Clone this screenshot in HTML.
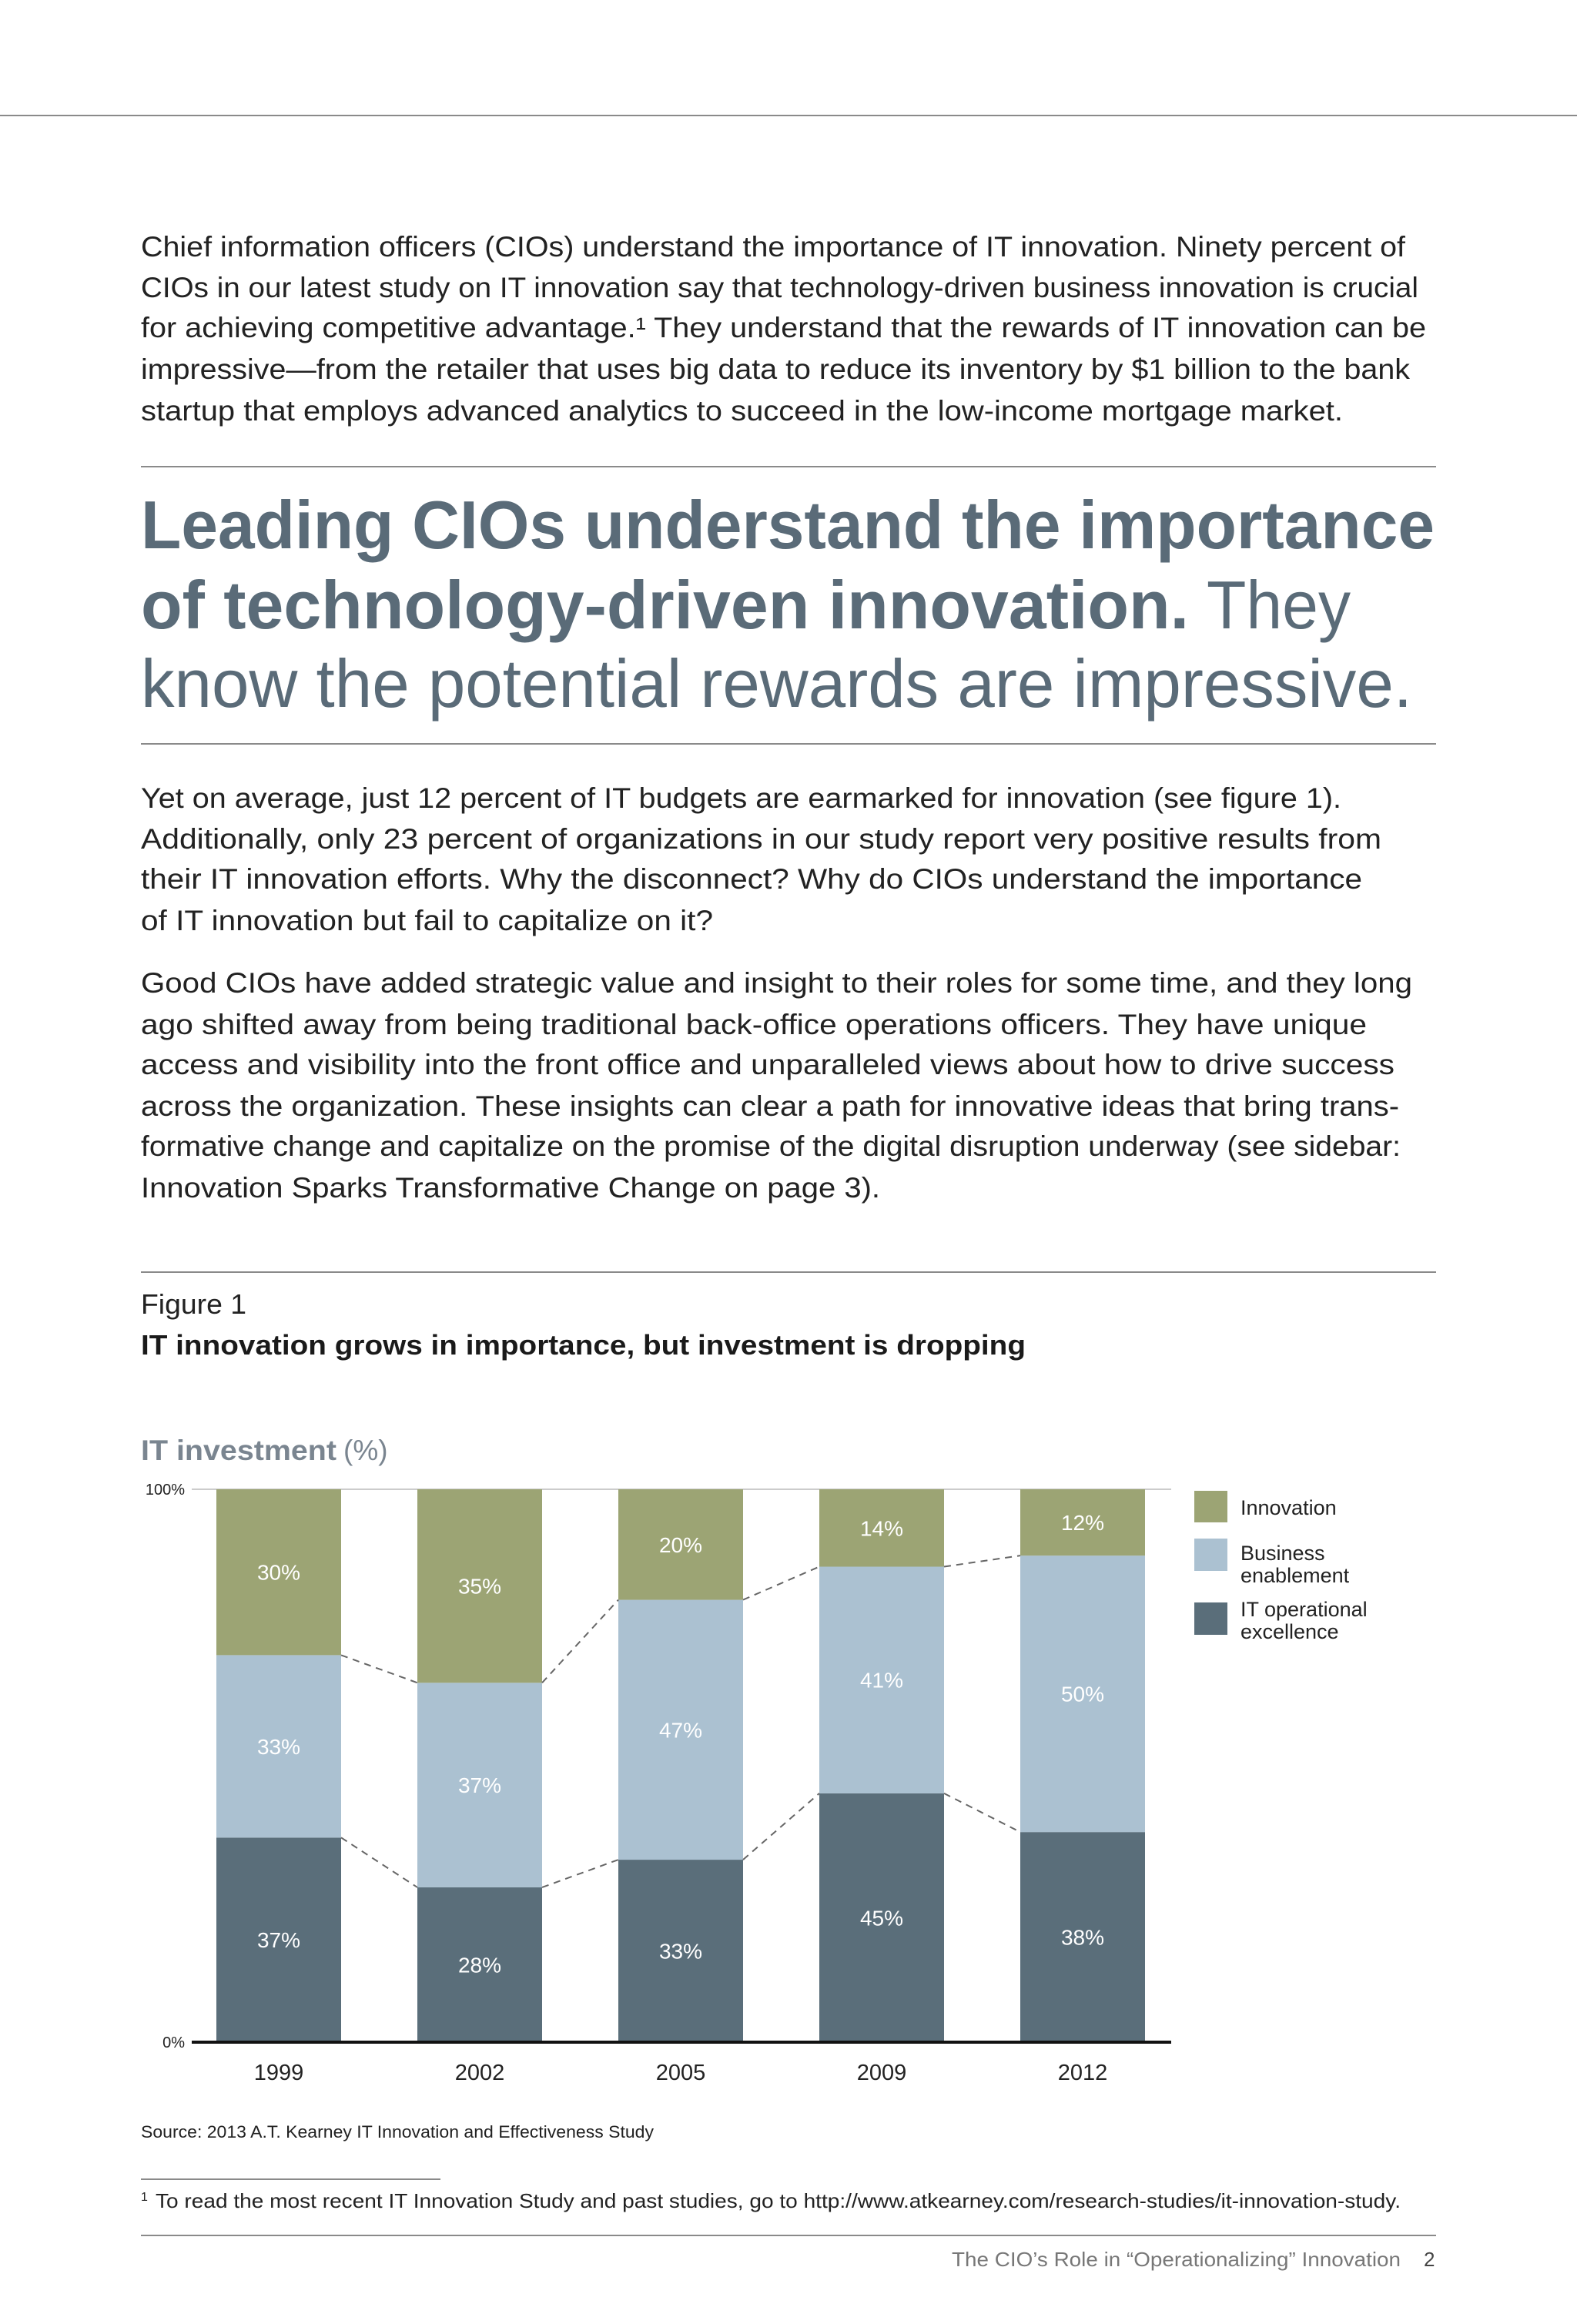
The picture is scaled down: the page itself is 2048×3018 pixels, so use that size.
<!DOCTYPE html>
<html><head><meta charset="utf-8"><style>
html,body{margin:0;padding:0;background:#fff;}
svg{display:block;font-family:"Liberation Sans",sans-serif;}
</style></head><body>
<svg id="page" width="2048" height="3018" viewBox="0 0 2048 3018" xmlns="http://www.w3.org/2000/svg">
<rect width="2048" height="3018" fill="#fff"/>
<line x1="0" y1="150" x2="2048" y2="150" stroke="#8a8a8a" stroke-width="2"/>
<g font-size="37" fill="#222">
<text x="183" y="333" textLength="1642" lengthAdjust="spacingAndGlyphs">Chief information officers (CIOs) understand the importance of IT innovation. Ninety percent of</text>
<text x="183" y="386" textLength="1659" lengthAdjust="spacingAndGlyphs">CIOs in our latest study on IT innovation say that technology-driven business innovation is crucial</text>
<text x="183" y="438" textLength="1669" lengthAdjust="spacingAndGlyphs">for achieving competitive advantage.¹ They understand that the rewards of IT innovation can be</text>
<text x="183" y="492" textLength="1648" lengthAdjust="spacingAndGlyphs">impressive—from the retailer that uses big data to reduce its inventory by $1 billion to the bank</text>
<text x="183" y="546" textLength="1561" lengthAdjust="spacingAndGlyphs">startup that employs advanced analytics to succeed in the low-income mortgage market.</text>
</g>
<line x1="183" y1="606" x2="1865" y2="606" stroke="#8a8a8a" stroke-width="2"/>
<g font-size="88" fill="#5a6b78">
<text x="183" y="712" font-weight="bold" textLength="1680" lengthAdjust="spacingAndGlyphs">Leading CIOs understand the importance</text>
<text x="183" y="816" font-weight="bold" textLength="1361" lengthAdjust="spacingAndGlyphs">of technology-driven innovation.</text>
<text x="1567" y="816" textLength="187" lengthAdjust="spacingAndGlyphs">They</text>
<text x="183" y="918" textLength="1651" lengthAdjust="spacingAndGlyphs">know the potential rewards are impressive.</text>
</g>
<line x1="183" y1="966" x2="1865" y2="966" stroke="#8a8a8a" stroke-width="2"/>
<g font-size="37" fill="#222">
<text x="183" y="1049" textLength="1559" lengthAdjust="spacingAndGlyphs">Yet on average, just 12 percent of IT budgets are earmarked for innovation (see figure 1).</text>
<text x="183" y="1102" textLength="1611" lengthAdjust="spacingAndGlyphs">Additionally, only 23 percent of organizations in our study report very positive results from</text>
<text x="183" y="1154" textLength="1586" lengthAdjust="spacingAndGlyphs">their IT innovation efforts. Why the disconnect? Why do CIOs understand the importance</text>
<text x="183" y="1208" textLength="743" lengthAdjust="spacingAndGlyphs">of IT innovation but fail to capitalize on it?</text>
</g>
<g font-size="37" fill="#222">
<text x="183" y="1289" textLength="1651" lengthAdjust="spacingAndGlyphs">Good CIOs have added strategic value and insight to their roles for some time, and they long</text>
<text x="183" y="1343" textLength="1592" lengthAdjust="spacingAndGlyphs">ago shifted away from being traditional back-office operations officers. They have unique</text>
<text x="183" y="1395" textLength="1628" lengthAdjust="spacingAndGlyphs">access and visibility into the front office and unparalleled views about how to drive success</text>
<text x="183" y="1449" textLength="1634" lengthAdjust="spacingAndGlyphs">across the organization. These insights can clear a path for innovative ideas that bring trans-</text>
<text x="183" y="1501" textLength="1636" lengthAdjust="spacingAndGlyphs">formative change and capitalize on the promise of the digital disruption underway (see sidebar:</text>
<text x="183" y="1555" textLength="960" lengthAdjust="spacingAndGlyphs">Innovation Sparks Transformative Change on page 3).</text>
</g>
<line x1="183" y1="1652" x2="1865" y2="1652" stroke="#8a8a8a" stroke-width="2"/>
<text x="183" y="1706" font-size="36" fill="#222" textLength="137" lengthAdjust="spacingAndGlyphs">Figure 1</text>
<text x="183" y="1759" font-size="36" font-weight="bold" fill="#1a1a1a" textLength="1149" lengthAdjust="spacingAndGlyphs">IT innovation grows in importance, but investment is dropping</text>
<text x="183" y="1896" font-size="37" fill="#7a8590" font-weight="bold" textLength="254" lengthAdjust="spacingAndGlyphs">IT investment</text>
<text x="446" y="1896" font-size="37" fill="#7a8590">(%)</text>
<g id="chart"></g>
<g font-size="27" fill="#222">
<rect x="1551" y="1936" width="43" height="41" fill="#9ca474"/>
<text x="1611" y="1967">Innovation</text>
<rect x="1551" y="1998" width="43" height="42" fill="#abc1d1"/>
<text x="1611" y="2026">Business</text>
<text x="1611" y="2055">enablement</text>
<rect x="1551" y="2081" width="43" height="42" fill="#5a6e7a"/>
<text x="1611" y="2099">IT operational</text>
<text x="1611" y="2128">excellence</text>
</g>
<text x="183" y="2776" font-size="22" fill="#222" textLength="666" lengthAdjust="spacingAndGlyphs">Source: 2013 A.T. Kearney IT Innovation and Effectiveness Study</text>
<line x1="183" y1="2830" x2="572" y2="2830" stroke="#8a8a8a" stroke-width="2"/>
<text x="183" y="2858" font-size="16" fill="#222">1</text>
<text x="202" y="2867" font-size="26" fill="#222" textLength="1617" lengthAdjust="spacingAndGlyphs">To read the most recent IT Innovation Study and past studies, go to http://www.atkearney.com/research-studies/it-innovation-study.</text>
<line x1="183" y1="2903" x2="1865" y2="2903" stroke="#8a8a8a" stroke-width="2"/>
<text x="1236" y="2943" font-size="26" fill="#777" textLength="583" lengthAdjust="spacingAndGlyphs">The CIO’s Role in “Operationalizing” Innovation</text>
<text x="1849" y="2943" font-size="26" fill="#444">2</text>
</svg>
<script>
const categories = ["1999", "2002", "2005", "2009", "2012"];
const itOperational = [37, 28, 33, 45, 38];
const businessEnablement = [33, 37, 47, 41, 50];
const innovation = [30, 35, 20, 14, 12];
const yTickLabels = ["0%", "100%"];
const yTickValues = [0, 100];

const NS = "http://www.w3.org/2000/svg";
const chart = document.getElementById("chart");
const plotLeft = 249, plotRight = 1521, y0 = 2652, y100 = 1934;
const firstCenter = 362, step = 261, barW = 162;
function yScale(v){ return y0 - (v/100)*(y0 - y100); }
function xCenter(i){ return firstCenter + i*step; }
function mk(tag, attrs){ const e = document.createElementNS(NS, tag); for (const k in attrs) e.setAttribute(k, attrs[k]); chart.appendChild(e); return e; }

const grid = mk("line", {x1: plotLeft, x2: plotRight, y1: yScale(100), y2: yScale(100), stroke: "#ccc", "stroke-width": 2});



const series = [
  {vals: itOperational, color: "#5a6e7a", name: "it-operational"},
  {vals: businessEnablement, color: "#abc1d1", name: "business-enablement"},
  {vals: innovation, color: "#9ca474", name: "innovation"}
];
const tops = [[], []];
categories.forEach((c, i) => {
  let base = 0;
  series.forEach((s, si) => {
    const v = s.vals[i];
    const yTop = yScale(base + v), yBot = yScale(base);
    const r = mk("rect", {x: xCenter(i) - barW/2, y: yTop, width: barW, height: yBot - yTop, fill: s.color});
    
    
    const t = mk("text", {x: xCenter(i), y: (yTop + yBot)/2 + 10, "text-anchor": "middle", "font-size": 28, fill: "#fff"});
    t.textContent = v + "%";
    
    
    base += v;
    if (si < 2) tops[si].push(yScale(base));
  });
  const xl = mk("text", {x: xCenter(i), y: 2701, "text-anchor": "middle", "font-size": 29, fill: "#222"});
  xl.textContent = c;
  
  
});
tops.forEach((arr, si) => {
  for (let i = 0; i < arr.length - 1; i++) {
    const l = mk("line", {x1: xCenter(i) + barW/2, y1: arr[i], x2: xCenter(i+1) - barW/2, y2: arr[i+1], stroke: "#666", "stroke-width": 2, "stroke-dasharray": "9 7"});
    
    
  }
});
const ax = mk("line", {x1: plotLeft, x2: plotRight, y1: y0, y2: y0, stroke: "#111", "stroke-width": 4});


yTickValues.forEach((v, i) => {
  const t = mk("text", {x: 240, y: yScale(v) + 7, "text-anchor": "end", "font-size": 20, fill: "#222"});
  t.textContent = yTickLabels[i];
  
  
});
</script>
</body></html>
